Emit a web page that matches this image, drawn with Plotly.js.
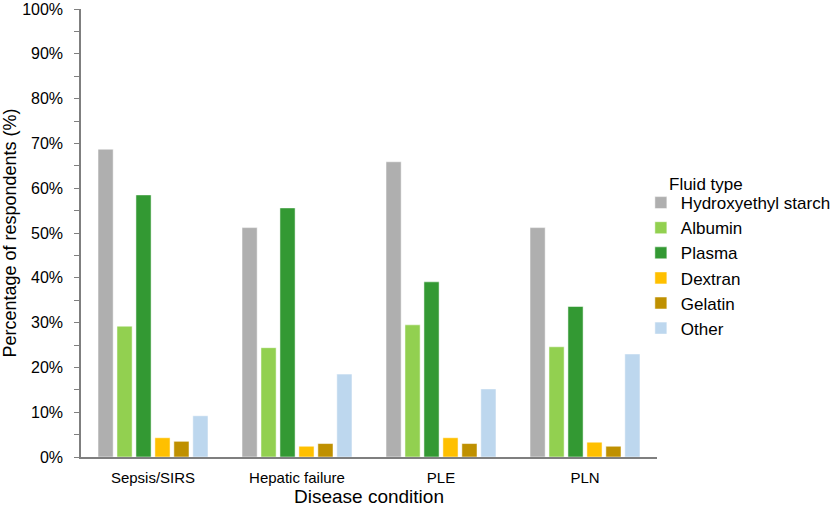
<!DOCTYPE html>
<html>
<head>
<meta charset="utf-8">
<script src="https://cdn.plot.ly/plotly-3.0.1.min.js"></script>
<style>
  html, body { margin: 0; padding: 0; background: #fff; }
  #chart { width: 830px; height: 507px; }
</style>
</head>
<body>
<div id="chart"></div>
<script>
var conditions = ['Sepsis/SIRS', 'Hepatic failure', 'PLE', 'PLN'];

var hydroxyethylStarch = [0.687, 0.512, 0.659, 0.512];
var albumin            = [0.292, 0.244, 0.295, 0.246];
var plasma             = [0.585, 0.556, 0.391, 0.336];
var dextran            = [0.043, 0.024, 0.043, 0.033];
var gelatin            = [0.035, 0.030, 0.030, 0.024];
var other              = [0.092, 0.185, 0.152, 0.230];

var yTicks = [0, 0.1, 0.2, 0.3, 0.4, 0.5, 0.6, 0.7, 0.8, 0.9, 1.0];
var yTickLabels = ['0%', '10%', '20%', '30%', '40%', '50%', '60%', '70%', '80%', '90%', '100%'];

function makeBar(name, values, color) {
    return {
        type: 'bar',
        name: name,
        x: conditions,
        y: values,
        marker: {color: color, line: {color: 'rgba(255,255,255,0.5)', width: 1}},
        hoverinfo: 'x+y+name'
    };
}

var data = [
    makeBar('Hydroxyethyl starch', hydroxyethylStarch, '#afafaf'),
    makeBar('Albumin', albumin, '#92d050'),
    makeBar('Plasma', plasma, '#339933'),
    makeBar('Dextran', dextran, '#ffc000'),
    makeBar('Gelatin', gelatin, '#bf9000'),
    makeBar('Other', other, '#bdd7ee')
];

var layout = {
    width: 830,
    height: 507,
    margin: {l: 81, r: 173, t: 9, b: 50, autoexpand: false},
    paper_bgcolor: '#ffffff',
    plot_bgcolor: '#ffffff',
    font: {family: 'Liberation Sans, Arial, sans-serif', color: '#000000', size: 15},
    barmode: 'group',
    bargap: 0.21,
    bargroupgap: 0.2,
    showlegend: true,
    xaxis: {
        title: {text: 'Disease condition', font: {size: 19}, standoff: 5},
        showline: true,
        linecolor: '#7f7f7f',
        linewidth: 1.5,
        ticks: '',
        tickfont: {size: 15},
        ticklabelstandoff: 6,
        showgrid: false,
        zeroline: false,
        automargin: false
    },
    yaxis: {
        title: {text: 'Percentage of respondents (%)', font: {size: 18}, standoff: 6},
        range: [0, 1.0],
        tickvals: yTicks,
        ticktext: yTickLabels,
        tickfont: {size: 16},
        ticks: 'outside',
        ticklen: 5,
        tickcolor: '#7f7f7f',
        ticklabelstandoff: 8,
        minor: {dtick: 0.05, ticks: 'outside', ticklen: 5, tickcolor: '#7f7f7f'},
        showline: true,
        linecolor: '#7f7f7f',
        linewidth: 1.5,
        showgrid: false,
        zeroline: false,
        automargin: false
    },
    legend: {
        x: 0.972,
        xanchor: 'left',
        y: 0.607,
        yanchor: 'top',
        font: {size: 17},
        tracegroupgap: 0,
        itemwidth: 30,
        bgcolor: 'rgba(0,0,0,0)'
    },
    annotations: [{
        text: 'Fluid type',
        xref: 'paper',
        yref: 'paper',
        x: 1.018,
        xanchor: 'left',
        y: 0.609,
        yanchor: 'middle',
        showarrow: false,
        font: {size: 17}
    }]
};

Plotly.newPlot('chart', data, layout, {displayModeBar: false, responsive: false});
</script>
</body>
</html>
